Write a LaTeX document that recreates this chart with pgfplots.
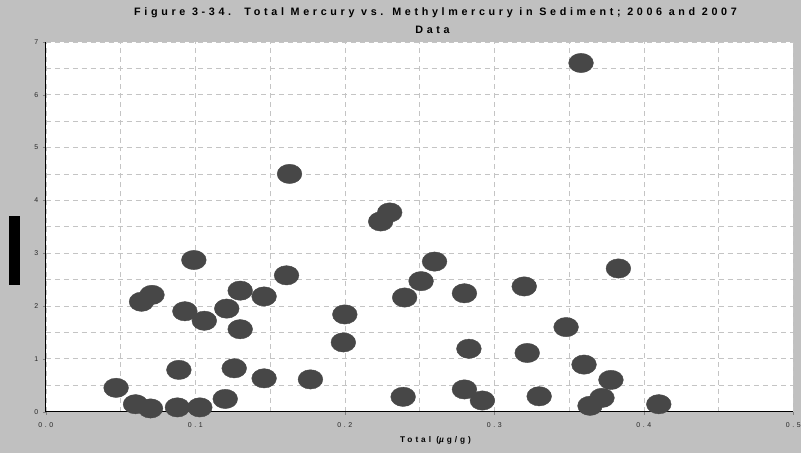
\documentclass[border=0pt]{standalone}
\usepackage{fontspec}
\setmainfont{Liberation Sans}
\newfontfamily\spaced[LetterSpace=36]{Liberation Sans}
\newfontfamily\titlespaced[LetterSpace=34]{Liberation Sans}
\usepackage{pgfplots}
\pgfplotsset{compat=1.18}
\definecolor{bg}{HTML}{C0C0C0}
\definecolor{dot}{HTML}{474747}
\definecolor{gridc}{HTML}{C4C4C4}

\begin{document}
\begin{tikzpicture}[x=1pt,y=1pt]
\fill[bg] (0,0) rectangle (804,455);
% blacked-out y label
\fill[black] (9,169) rectangle (20,238);
\begin{axis}[
    at={(46pt,42pt)}, anchor=south west,
    scale only axis,
    width=750pt, height=371pt,
    xmin=0, xmax=0.5, ymin=0, ymax=7,
    xtick={0,0.1,...,0.5},
    ytick={0,1,...,7},
    minor x tick num=1,
    minor y tick num=1,
    grid=both,
    grid style={gridc, dash pattern=on 5pt off 4pt, line width=0.6pt},
    minor tick length=0pt,
    major tick length=3pt,
    tick align=outside,
    axis lines*=left,
    axis line style={black, line width=0.8pt},
    axis background/.style={fill=white},
    tick label style={font=\spaced\fontsize{7}{7}\selectfont, text=black!85},
    /pgf/number format/assume math mode=true,
    xticklabel style={/pgf/number format/.cd, fixed, fixed zerofill, precision=1},
    yticklabel style={/pgf/number format/.cd, fixed, precision=0},
    xticklabel shift=5pt,
    yticklabel shift=1pt,
    clip=false,
]
\addplot[only marks, mark=*, mark size=9.7pt, color=dot,
    mark options={xscale=1.28, draw=dot, fill=dot}]
coordinates {
(0.047,0.45) (0.060,0.14) (0.070,0.06) (0.088,0.08) (0.103,0.08)
(0.120,0.24) (0.089,0.79) (0.126,0.82) (0.146,0.63) (0.177,0.61)
(0.064,2.08) (0.071,2.21) (0.093,1.90) (0.106,1.72) (0.099,2.87)
(0.121,1.95) (0.130,2.29) (0.130,1.56) (0.146,2.18) (0.161,2.58)
(0.163,4.50) (0.200,1.84) (0.199,1.31) (0.239,0.28) (0.240,2.16)
(0.251,2.47) (0.260,2.84) (0.224,3.60) (0.230,3.77) (0.280,2.24)
(0.283,1.19) (0.280,0.42) (0.292,0.21) (0.320,2.37) (0.322,1.11)
(0.330,0.29) (0.348,1.60) (0.358,6.60) (0.360,0.89) (0.378,0.60)
(0.372,0.26) (0.364,0.11) (0.383,2.71) (0.410,0.14)
};
\end{axis}
\node[font=\titlespaced\bfseries\fontsize{10.8}{12}\selectfont] at (437,442) {Figure 3-34.\ \ Total Mercury vs. Methylmercury in Sediment; 2006 and 2007};
\node[font=\titlespaced\bfseries\fontsize{10.8}{12}\selectfont] at (434,425) {Data};
\node[font=\spaced\bfseries\fontsize{8.3}{9}\selectfont] at (437,13) {Total (\textit{µ}g/g)};
\end{tikzpicture}
\end{document}
